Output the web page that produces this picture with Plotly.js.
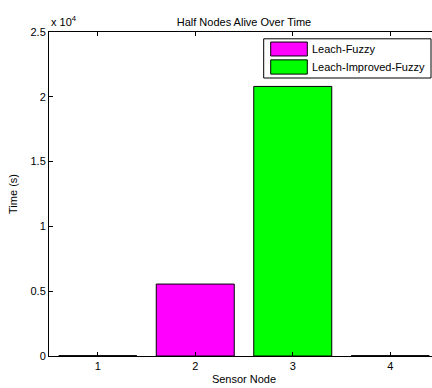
<!DOCTYPE html>
<html>
<head>
<meta charset="utf-8">
<script src="https://cdn.plot.ly/plotly-3.0.1.min.js"></script>
<style>
  html, body { margin: 0; padding: 0; overflow: hidden; background: #fff; width: 432px; height: 388px; }
  #frame { width: 432px; height: 388px; overflow: hidden; position: relative; }
  #chart { width: 440px; height: 388px; position: absolute; left: 0; top: 0; }
</style>
</head>
<body>
<div id="frame"><div id="chart"></div></div>
<script>
// Time until half of the nodes are dead, per sensor node scheme
const nodes = [1, 2, 3, 4];
const times = [0, 5550, 20800, 0];
const barColors = ['#000080', '#ff00ff', '#00ff00', '#800000'];

const legendNames = ['Leach-Fuzzy', 'Leach-Improved-Fuzzy'];
const legendColors = ['#ff00ff', '#00ff00'];

const yTickVals = [0, 5000, 10000, 15000, 20000, 25000];
const yTickText = ['0', '0.5', '1', '1.5', '2', '2.5'];

const font = 'Liberation Sans, Arial, Helvetica, sans-serif';

const bars = {
  type: 'bar',
  x: nodes,
  y: times,
  width: 0.8,
  marker: { color: barColors, line: { color: '#000', width: 1 } },
  showlegend: false,
  hoverinfo: 'x+y'
};

// zero-height bars still show their outline along the baseline
const zeroX = [], zeroY = [];
nodes.forEach((n, i) => {
  if (times[i] === 0) { zeroX.push(n - 0.4, n + 0.4, null); zeroY.push(0, 0, null); }
});
const zeroBars = {
  type: 'scatter', mode: 'lines', x: zeroX, y: zeroY,
  line: { color: '#000', width: 1.5 }, showlegend: false, hoverinfo: 'skip'
};

// boxed legend in the upper right of the axes
const shapes = [{
  type: 'rect', xref: 'paper', yref: 'paper',
  x0: 0.5505, x1: 0.9795, y0: 0.858, y1: 0.979,
  line: { color: '#000', width: 1 }, fillcolor: '#fff'
}];
const annotations = [];
const rows = [[0.969, 0.926], [0.914, 0.870]];
legendNames.forEach((name, i) => {
  shapes.push({
    type: 'rect', xref: 'paper', yref: 'paper',
    x0: 0.5685, x1: 0.6623, y0: rows[i][1], y1: rows[i][0],
    line: { color: '#000', width: 1 }, fillcolor: legendColors[i]
  });
  annotations.push({
    xref: 'paper', yref: 'paper', x: 0.669, y: (rows[i][0] + rows[i][1]) / 2,
    xanchor: 'left', yanchor: 'middle', showarrow: false,
    text: name, font: { family: font, size: 11, color: '#000' }
  });
});
annotations.push({
  xref: 'paper', yref: 'paper', x: 0, y: 1.005, xanchor: 'left', yanchor: 'bottom',
  showarrow: false, text: 'x 10<sup>4</sup>', font: { family: font, size: 11, color: '#000' }
});

const layout = {
  width: 440, height: 388,
  margin: { l: 49, r: 1, t: 32, b: 32 },
  paper_bgcolor: '#fff', plot_bgcolor: '#fff',
  font: { family: font, size: 11, color: '#000' },
  title: {
    text: 'Half Nodes Alive Over Time',
    font: { family: font, size: 11, color: '#000' },
    x: 0.5, xref: 'paper', y: 1, yref: 'paper', yanchor: 'bottom', pad: { b: 6 }
  },
  xaxis: {
    range: [0.5, 4.5], tickvals: nodes, ticktext: nodes.map(String),
    ticks: 'inside', ticklen: 4, tickcolor: '#000', tickwidth: 1,
    showline: true, linecolor: '#000', linewidth: 1, mirror: 'ticks',
    showgrid: false, zeroline: false, fixedrange: true,
    title: { text: 'Sensor Node', font: { family: font, size: 11, color: '#000' }, standoff: 4 }
  },
  yaxis: {
    range: [0, 25000], tickvals: yTickVals, ticktext: yTickText,
    ticks: 'inside', ticklen: 4, tickcolor: '#000', tickwidth: 1,
    showline: true, linecolor: '#000', linewidth: 1, mirror: false,
    showgrid: false, zeroline: false, fixedrange: true,
    title: { text: 'Time (s)', font: { family: font, size: 11, color: '#000' }, standoff: 10 }
  },
  bargap: 0.2,
  shapes: shapes,
  annotations: annotations
};

Plotly.newPlot('chart', [bars, zeroBars], layout, { displayModeBar: false, staticPlot: true });
</script>
</body>
</html>
